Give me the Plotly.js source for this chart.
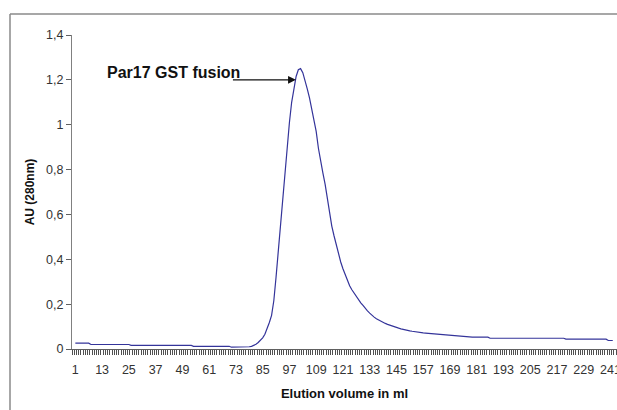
<!DOCTYPE html>
<html>
<head>
<meta charset="utf-8">
<script src="https://cdn.plot.ly/plotly-3.0.1.min.js"></script>
<style>
  html, body { margin: 0; padding: 0; background: #ffffff; }
  #chart { width: 617px; height: 410px; }
</style>
</head>
<body>
<div id="chart"></div>
<script>
// Absorbance at 280 nm for each elution fraction (fraction 1 onward)
const absorbance = [
  0.026, 0.026, 0.026, 0.026, 0.026, 0.026, 0.026, 0.020, 0.020, 0.020,
  0.020, 0.020, 0.020, 0.020, 0.020, 0.020, 0.020, 0.020, 0.020, 0.020,
  0.020, 0.020, 0.020, 0.020, 0.020, 0.016, 0.016, 0.016, 0.016, 0.016,
  0.016, 0.016, 0.016, 0.016, 0.016, 0.016, 0.016, 0.016, 0.016, 0.016,
  0.016, 0.016, 0.016, 0.016, 0.016, 0.016, 0.016, 0.016, 0.016, 0.016,
  0.016, 0.016, 0.016, 0.012, 0.012, 0.012, 0.012, 0.012, 0.012, 0.012,
  0.012, 0.012, 0.012, 0.012, 0.012, 0.012, 0.012, 0.012, 0.012, 0.012,
  0.008, 0.008, 0.008, 0.008, 0.008, 0.008, 0.008, 0.008, 0.010, 0.012,
  0.016, 0.021, 0.029, 0.038, 0.050, 0.066, 0.088, 0.118, 0.150, 0.215,
  0.320, 0.440, 0.570, 0.680, 0.785, 0.905, 1.010, 1.100, 1.160, 1.215,
  1.245, 1.250, 1.232, 1.200, 1.160, 1.120, 1.070, 1.030, 0.970, 0.895,
  0.830, 0.785, 0.735, 0.665, 0.605, 0.548, 0.505, 0.462, 0.422, 0.388,
  0.358, 0.330, 0.305, 0.282, 0.264, 0.248, 0.232, 0.218, 0.206, 0.194,
  0.180, 0.170, 0.160, 0.150, 0.142, 0.135, 0.129, 0.124, 0.119, 0.114,
  0.110, 0.106, 0.102, 0.099, 0.096, 0.093, 0.090, 0.087, 0.085, 0.083,
  0.081, 0.079, 0.077, 0.076, 0.074, 0.073, 0.072, 0.071, 0.070, 0.069,
  0.068, 0.067, 0.066, 0.065, 0.064, 0.063, 0.062, 0.061, 0.061, 0.060,
  0.059, 0.059, 0.058, 0.058, 0.057, 0.056, 0.053, 0.053, 0.053, 0.053,
  0.053, 0.053, 0.053, 0.053, 0.053, 0.053, 0.048, 0.048, 0.048, 0.048,
  0.048, 0.048, 0.048, 0.048, 0.048, 0.048, 0.048, 0.048, 0.048, 0.048,
  0.048, 0.048, 0.048, 0.048, 0.048, 0.048, 0.048, 0.048, 0.048, 0.048,
  0.048, 0.048, 0.048, 0.048, 0.048, 0.048, 0.048, 0.048, 0.048, 0.048,
  0.044, 0.044, 0.044, 0.044, 0.044, 0.044, 0.044, 0.044, 0.044, 0.044,
  0.044, 0.044, 0.044, 0.044, 0.044, 0.044, 0.044, 0.044, 0.044, 0.038,
  0.038, 0.038
];

// Category labels on the elution axis (every 12th fraction)
const xTickValues = [1, 13, 25, 37, 49, 61, 73, 85, 97, 109, 121, 133, 145, 157, 169, 181, 193, 205, 217, 229, 241];
const xTickLabels = ['1', '13', '25', '37', '49', '61', '73', '85', '97', '109', '121', '133', '145', '157', '169', '181', '193', '205', '217', '229', '241'];

// Absorbance axis ticks, decimal comma
const yTickValues = [0, 0.2, 0.4, 0.6, 0.8, 1, 1.2, 1.4];
const yTickLabels = ['0', '0,2', '0,4', '0,6', '0,8', '1', '1,2', '1,4'];

// Peak callout
const peakLabel = 'Par17 GST fusion';
const arrowTip = { x: 99.9, y: 1.2 };
const arrowTail = { x: 71.0, y: 1.2 };

const W = 617, H = 410;
const M = { l: 72, r: 0, t: 35, b: 61 };
const plotW = W - M.l - M.r, plotH = H - M.t - M.b;
const px = v => (v - M.l) / plotW;          // pixel x -> paper x
const py = v => (H - M.b - v) / plotH;      // pixel y -> paper y

const trace = {
  type: 'scatter',
  mode: 'lines',
  x0: 1,
  dx: 1,
  y: absorbance,
  line: { color: '#34349a', width: 1.2 },
  hoverinfo: 'skip'
};

const font = 'Liberation Sans, Arial, sans-serif';

const layout = {
  width: W,
  height: H,
  margin: M,
  paper_bgcolor: '#ffffff',
  plot_bgcolor: '#ffffff',
  showlegend: false,
  font: { family: font, size: 12, color: '#333333' },
  xaxis: {
    range: [-0.5, 243.9],
    tickmode: 'array',
    tickvals: xTickValues,
    ticktext: xTickLabels,
    ticks: 'outside',
    ticklen: 9,
    tickcolor: 'rgba(0,0,0,0)',
    ticklabeloverflow: 'allow',
    minor: { dtick: 1, tick0: 0.5, ticks: 'outside', ticklen: 5, tickwidth: 1, tickcolor: '#505050', showgrid: false },
    showline: true,
    linecolor: '#606060',
    linewidth: 1,
    showgrid: false,
    zeroline: false,
    tickfont: { family: font, size: 12.5, color: '#333333' },
    title: { text: 'Elution volume in ml', font: { family: font, size: 13, color: '#111111', weight: 'bold' }, standoff: 12 }
  },
  yaxis: {
    range: [0, 1.4],
    tickmode: 'array',
    tickvals: yTickValues,
    ticktext: yTickLabels,
    ticks: 'outside',
    ticklen: 5,
    tickcolor: '#606060',
    showline: true,
    linecolor: '#808080',
    linewidth: 1,
    showgrid: false,
    zeroline: false,
    tickfont: { family: font, size: 12.5, color: '#333333' },
    title: { text: 'AU (280nm)', font: { family: font, size: 12, color: '#111111', weight: 'bold' }, standoff: 8 }
  },
  shapes: [
    // frame around the chart area
    { type: 'line', xref: 'paper', yref: 'paper', x0: px(10), x1: px(W + 2), y0: py(14), y1: py(14),
      line: { color: '#8a8a8a', width: 1.5 } },
    { type: 'line', xref: 'paper', yref: 'paper', x0: px(10), x1: px(10), y0: py(14), y1: py(H + 2),
      line: { color: '#8a8a8a', width: 1.5 } }
  ],
  annotations: [
    { xref: 'paper', yref: 'paper', x: px(105), y: py(72), xanchor: 'left', yanchor: 'middle',
      text: '<b>' + peakLabel + '</b>', showarrow: false,
      font: { family: font, size: 16, color: '#111111' } },
    { xref: 'x', yref: 'y', x: arrowTip.x, y: arrowTip.y, axref: 'x', ayref: 'y',
      ax: arrowTail.x, ay: arrowTail.y, text: '', showarrow: true,
      arrowhead: 2, arrowsize: 1.3, arrowwidth: 1.2, arrowcolor: '#111111', standoff: 0, startstandoff: 0 }
  ]
};

Plotly.newPlot('chart', [trace], layout, { staticPlot: true, displayModeBar: false });
</script>
</body>
</html>
